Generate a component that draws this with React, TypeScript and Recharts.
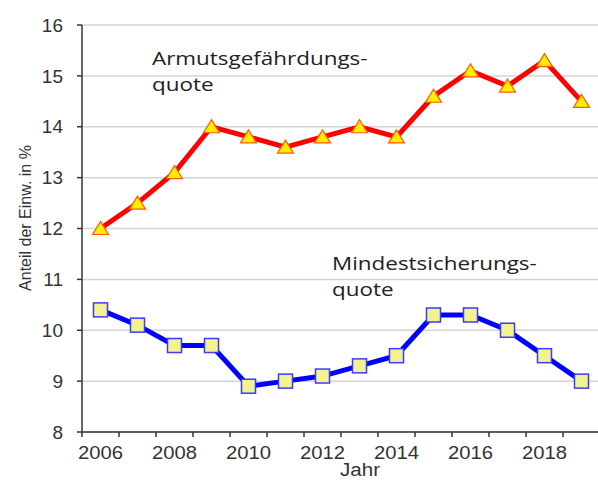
import { LineChart, Line, XAxis, YAxis, CartesianGrid } from "recharts";

const YEARS = [2006, 2007, 2008, 2009, 2010, 2011, 2012, 2013, 2014, 2015, 2016, 2017, 2018, 2019];
const ARMUT = [12.0, 12.5, 13.1, 14.0, 13.8, 13.6, 13.8, 14.0, 13.8, 14.6, 15.1, 14.8, 15.3, 14.5];
const MINDEST = [10.4, 10.1, 9.7, 9.7, 8.9, 9.0, 9.1, 9.3, 9.5, 10.3, 10.3, 10.0, 9.5, 9.0];
const Y_TICKS = [8, 9, 10, 11, 12, 13, 14, 15, 16];
const X_LABELS = [2006, 2008, 2010, 2012, 2014, 2016, 2018];

const data = YEARS.map((year, i) => ({ year, armut: ARMUT[i], mindest: MINDEST[i] }));

// tick marks sit between the years, labels on every second year
const xTicks = [
  ...YEARS.map((y) => y - 0.5),
  YEARS[YEARS.length - 1] + 0.5,
  ...X_LABELS,
].sort((a, b) => a - b);

const AXIS = "#333333";
const FONT = "'Liberation Sans', Arial, sans-serif";

function XTick({ x, y, payload }: any) {
  const v = payload.value as number;
  if (!Number.isInteger(v)) {
    return <line x1={x} x2={x} y1={y} y2={y + 5} stroke={AXIS} strokeWidth={1.5} />;
  }
  return (
    <text x={x} y={y + 20} textAnchor="middle" dominantBaseline="central" fill="#333" fontSize={19} fontFamily={FONT} textLength={45} lengthAdjust="spacingAndGlyphs">
      {v}
    </text>
  );
}

function Triangle({ cx, cy, index }: any) {
  return (
    <polygon
      key={`t${index}`}
      points={`${cx},${cy - 7} ${cx - 8},${cy + 6} ${cx + 8},${cy + 6}`}
      fill="#ffee00"
      stroke="#ff5a00"
      strokeWidth={1.2}
    />
  );
}

function Square({ cx, cy, index }: any) {
  return (
    <rect key={`s${index}`} x={cx - 7} y={cy - 7} width={14} height={14} fill="#f3f290" stroke="#3b3bff" strokeWidth={1.5} />
  );
}

const noteStyle: React.CSSProperties = {
  position: "absolute",
  fontFamily: "'Open Sans', sans-serif",
  fontSize: 19,
  lineHeight: "26px",
  color: "#222",
  whiteSpace: "nowrap",
  transform: "scaleX(1.18)",
  transformOrigin: "left top",
};

export default function App() {
  return (
    <div style={{ position: "absolute", left: 0, top: 0, width: 598, height: 480, overflow: "hidden", background: "#fff" }}>
      <LineChart width={600} height={480} data={data} margin={{ top: 25, right: 0, left: 0, bottom: 0 }}>
        <CartesianGrid horizontal vertical={false} stroke="#d4d4d4" strokeWidth={1.5} />
        <XAxis
          dataKey="year"
          type="number"
          domain={[2005.5, 2019.5]}
          ticks={xTicks}
          interval={0}
          tickLine={false}
          tickSize={0}
          tickMargin={0}
          tick={<XTick />}
          height={48}
          axisLine={{ stroke: AXIS, strokeWidth: 1.5 }}
          label={({ viewBox }: any) => (
            <text x={viewBox.x + 278} y={viewBox.y + 38} textAnchor="middle" dominantBaseline="central" fill="#333" fontSize={18} fontFamily={FONT} textLength={40} lengthAdjust="spacingAndGlyphs">
              Jahr
            </text>
          )}
        />
        <YAxis
          type="number"
          domain={[8, 16]}
          ticks={Y_TICKS}
          interval={0}
          width={82}
          tickSize={5}
          tickMargin={14}
          tick={{ fill: "#333", fontSize: 19, fontFamily: FONT }}
          tickLine={{ stroke: AXIS, strokeWidth: 1.5 }}
          axisLine={{ stroke: AXIS, strokeWidth: 1.5 }}
          label={() => (
            <text x={25} y={218} transform="rotate(-90 25 218)" textAnchor="middle" dominantBaseline="central" fill="#333" fontSize={16} fontFamily={FONT}>
              Anteil der Einw. in %
            </text>
          )}
        />
        <Line dataKey="armut" type="linear" stroke="#ff0000" strokeWidth={5} dot={(p: any) => <Triangle {...p} key={`t${p.index}`} />} activeDot={false} isAnimationActive={false} />
        <Line dataKey="mindest" type="linear" stroke="#0000ff" strokeWidth={5} dot={(p: any) => <Square {...p} key={`s${p.index}`} />} activeDot={false} isAnimationActive={false} />
      </LineChart>
      <div style={{ ...noteStyle, left: 152, top: 45 }}>
        Armutsgefährdungs-
        <br />
        quote
      </div>
      <div style={{ ...noteStyle, left: 332, top: 250 }}>
        Mindestsicherungs-
        <br />
        quote
      </div>
    </div>
  );
}
